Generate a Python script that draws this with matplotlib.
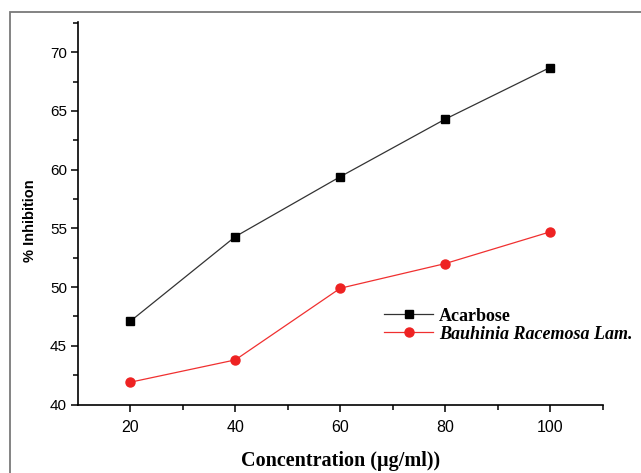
import matplotlib
matplotlib.use("Agg")
import matplotlib.pyplot as plt
from matplotlib.patches import Rectangle
from matplotlib.ticker import MultipleLocator

concentration = [20, 40, 60, 80, 100]
acarbose = [47.1, 54.3, 59.4, 64.3, 68.7]
bauhinia = [41.9, 43.8, 49.9, 52.0, 54.7]
series_names = ["Acarbose", "Bauhinia Racemosa Lam."]

fig = plt.figure(figsize=(6.41, 4.73), dpi=100)
fig.patches.append(Rectangle((10/641, -0.1), 1.2, 1 - 12/473 + 0.1, transform=fig.transFigure,
                             fill=False, edgecolor="#7a7a7a", linewidth=1.3))
ax = fig.add_axes([78/641, 1 - 404.5/473, (602.5 - 78)/641, (404.5 - 22.3)/473])

ax.plot(concentration, acarbose, color="#333333", lw=0.9, marker="s", ms=6,
        mfc="black", mec="black", label=series_names[0])
ax.plot(concentration, bauhinia, color="#f03030", lw=0.9, marker="o", ms=6.5,
        mfc="#ee2222", mec="#ee2222", label=series_names[1])

ax.set_xlim(10, 110)
ax.set_ylim(40, 72.55)
ax.yaxis.set_major_locator(MultipleLocator(5))
ax.yaxis.set_minor_locator(MultipleLocator(2.5))
ax.set_xticks([20, 40, 60, 80, 100])
ax.set_xticks([30, 50, 70, 90, 110], minor=True)
for s in ["top", "right"]:
    ax.spines[s].set_visible(False)
for s in ["left", "bottom"]:
    ax.spines[s].set_linewidth(1.2)
ax.tick_params(which="major", direction="out", length=5, width=1.1,
               labelsize=11, pad=3)
ax.tick_params(which="minor", direction="out", length=3.4, width=1.1)
ax.tick_params(axis="x", labelsize=11.5, pad=6.5)
for lab in ax.get_xticklabels() + ax.get_yticklabels():
    lab.set_fontfamily("Liberation Sans")

ax.set_ylabel("% Inhibition", fontfamily="Liberation Sans", fontweight="bold",
              fontsize=10.5)
ax.yaxis.set_label_coords(-0.079, 0.48)
ax.set_xlabel("Concentration (µg/ml))", fontfamily="Liberation Serif",
              fontweight="bold", fontsize=14.5, labelpad=11)

leg = ax.legend(loc="upper left", bbox_to_anchor=(0.57, 0.272), frameon=False,
                prop={"family": "Liberation Serif", "weight": "bold", "size": 13},
                handlelength=2.7, handletextpad=0.35, labelspacing=0.05, borderaxespad=0)
leg.get_texts()[1].set_fontstyle("italic")

fig.savefig("out.png", dpi=100)
